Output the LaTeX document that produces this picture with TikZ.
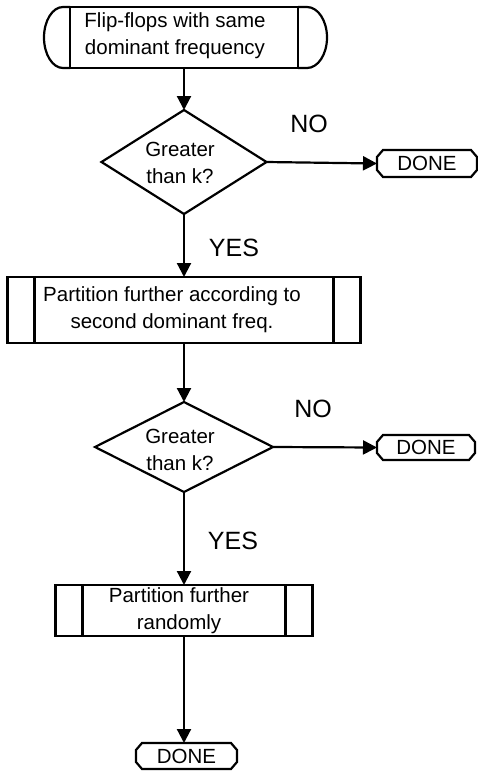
\documentclass[tikz,border=0pt]{standalone}
\usepackage{fontspec}
\setmainfont{Liberation Sans}
\usetikzlibrary{arrows.meta,shapes.geometric}
\newcommand\chamfbox[1]{%
  \draw ([xshift=6pt]#1.north west) -- ([xshift=-6pt]#1.north east)
    -- ([yshift=-7pt]#1.north east) -- ([yshift=7pt]#1.south east)
    -- ([xshift=-6pt]#1.south east) -- ([xshift=6pt]#1.south west)
    -- ([yshift=7pt]#1.south west) -- ([yshift=-7pt]#1.north west) -- cycle;}
\tikzset{
  shapebox/.style={draw, rectangle, inner sep=0pt, outer sep=0pt},
  decbox/.style={draw, diamond, inner sep=0pt, outer sep=0pt},
  donebox/.style={rectangle, inner sep=0pt, outer sep=0pt, font=\fontsize{20.5}{27}\selectfont},
  txt/.style={font=\fontsize{20.5}{27}\selectfont, align=center, inner sep=0pt},
  lbl/.style={font=\fontsize{25}{30}\selectfont, inner sep=0pt},
  flow/.style={-{Triangle[length=14pt,width=14pt]}},
}
\begin{document}
\begin{tikzpicture}[x=1pt,y=-1pt,line width=2.2pt]
\useasboundingbox (0,0) rectangle (478,772);
% start terminal
\node[shapebox, minimum width=228pt, minimum height=61pt] (start) at (184,37.5) {};
\draw (start.north west) -- ++(-7,0) arc[start angle=90,end angle=270,x radius=19pt,y radius=30.5pt] -- (start.south west);
\draw (start.north east) -- ++(9,0) arc[start angle=90,end angle=-90,x radius=20pt,y radius=30.5pt] -- (start.south east);
\node[txt] (starttxt) at (175,36) {Flip-flops with same\\dominant frequency};
% decision 1
\node[decbox, minimum width=165pt, minimum height=104pt] (q1) at (184,162) {};
\node[txt] (q1txt) at (180,163) {Greater\\than k?};
\node[donebox, minimum width=100pt, minimum height=27pt] (d1) at (427,163.5) {DONE};
\chamfbox{d1}
% process 1
\node[shapebox, minimum width=353pt, minimum height=66pt] (p1) at (184,310) {};
\draw ([xshift=27pt]p1.north west) -- ([xshift=27pt]p1.south west);
\draw ([xshift=-27pt]p1.north east) -- ([xshift=-27pt]p1.south east);
\node[txt] (p1txt) at (172,310) {Partition further according to\\second dominant freq.};
% decision 2
\node[decbox, minimum width=178pt, minimum height=90pt] (q2) at (184,447) {};
\node[txt] (q2txt) at (180,450) {Greater\\than k?};
\node[donebox, minimum width=98pt, minimum height=25pt] (d2) at (426,447.5) {DONE};
\chamfbox{d2}
% process 2
\node[shapebox, minimum width=257pt, minimum height=51pt] (p2) at (184,610.5) {};
\draw ([xshift=27pt]p2.north west) -- ([xshift=27pt]p2.south west);
\draw ([xshift=-27pt]p2.north east) -- ([xshift=-27pt]p2.south east);
\node[txt] (p2txt) at (179,611) {Partition further\\randomly};
\node[donebox, minimum width=101pt, minimum height=26pt] (d3) at (186.5,756) {DONE};
\chamfbox{d3}
% connectors
\draw[flow] (start.south) -- (q1.north);
\draw[flow] (q1.east) -- (d1.west);
\draw[flow] (q1.south) -- (p1.north);
\draw[flow] (p1.south) -- (q2.north);
\draw[flow] (q2.east) -- (d2.west);
\draw[flow] (q2.south) -- (p2.north);
\draw[flow] (p2.south) -- (p2.south |- d3.north);
% labels
\node[lbl] (no1) at (309,124) {NO};
\node[lbl] (yes1) at (234,248) {YES};
\node[lbl] (no2) at (313,409) {NO};
\node[lbl] (yes2) at (233,541) {YES};
\end{tikzpicture}
\end{document}
